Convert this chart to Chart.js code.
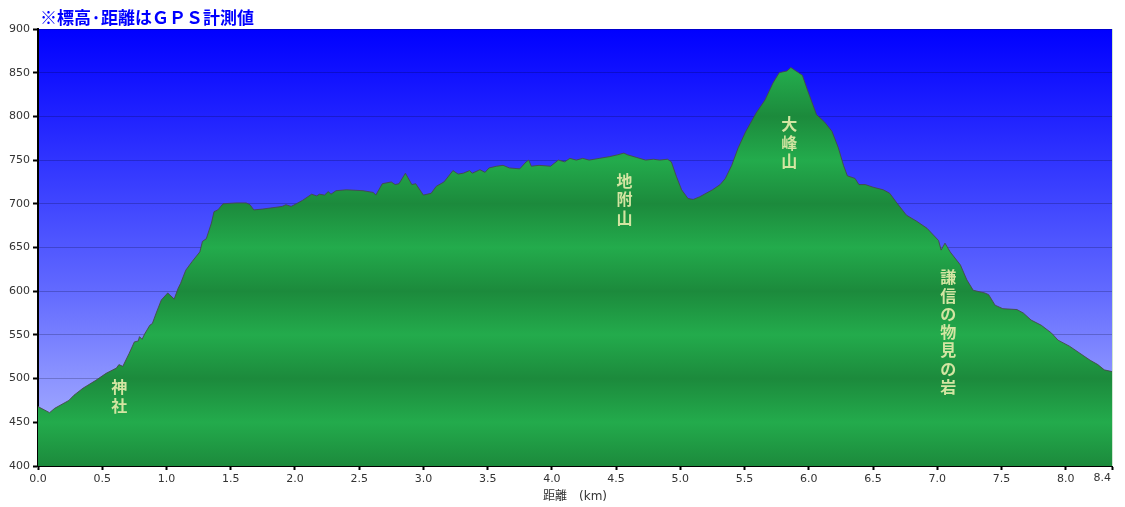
<!DOCTYPE html>
<html lang="ja">
<head>
<meta charset="utf-8">
<title>標高グラフ</title>
<script src="https://cdn.jsdelivr.net/npm/chart.js@4.4.1/dist/chart.umd.min.js"></script>
<style>
  html, body { margin: 0; padding: 0; background: #fff; }
  #wrap { width: 1125px; height: 507px; }
</style>
</head>
<body>
<div id="wrap"><canvas id="profile" width="1125" height="507"></canvas></div>
<script>
// 距離(km) と 標高(m)
const distanceKm = [
  0.00, 0.09, 0.13, 0.24, 0.28, 0.35, 0.45, 0.53, 0.61, 0.63, 0.66, 0.71, 0.75, 0.78, 0.79, 0.81,
  0.83, 0.87, 0.89, 0.92, 0.96, 1.01, 1.06, 1.09, 1.11, 1.15, 1.20, 1.26, 1.28, 1.31, 1.35, 1.37,
  1.40, 1.44, 1.54, 1.62, 1.65, 1.68, 1.75, 1.90, 1.93, 1.97, 2.01, 2.06, 2.13, 2.17, 2.19, 2.23,
  2.26, 2.28, 2.32, 2.40, 2.53, 2.61, 2.63, 2.68, 2.75, 2.78, 2.81, 2.86, 2.91, 2.94, 3.00, 3.06,
  3.10, 3.16, 3.23, 3.27, 3.31, 3.36, 3.38, 3.44, 3.48, 3.51, 3.57, 3.62, 3.67, 3.75, 3.80, 3.82,
  3.84, 3.90, 3.99, 4.05, 4.10, 4.14, 4.19, 4.24, 4.29, 4.37, 4.45, 4.51, 4.56, 4.59, 4.66, 4.73,
  4.79, 4.84, 4.90, 4.93, 4.97, 5.01, 5.06, 5.10, 5.15, 5.20, 5.25, 5.31, 5.35, 5.40, 5.45, 5.51,
  5.59, 5.66, 5.72, 5.77, 5.83, 5.86, 5.90, 5.95, 5.99, 6.06, 6.12, 6.18, 6.23, 6.27, 6.30, 6.36,
  6.39, 6.44, 6.50, 6.58, 6.63, 6.68, 6.76, 6.84, 6.92, 7.01, 7.03, 7.06, 7.10, 7.18, 7.23, 7.28,
  7.37, 7.40, 7.45, 7.51, 7.62, 7.67, 7.73, 7.81, 7.89, 7.94, 8.03, 8.11, 8.19, 8.25, 8.30, 8.36
];
const elevationM = [
  468, 461, 466, 475, 481, 489, 498, 506, 512, 516, 514, 529, 542, 543, 548, 545,
  551, 561, 563, 575, 590, 598, 591, 603, 609, 624, 634, 645, 657, 660, 678, 691,
  693, 700, 701, 701, 699, 693, 694, 697, 699, 697, 700, 704, 711, 709, 711, 710,
  714, 711, 715, 716, 715, 713, 710, 723, 725, 722, 723, 735, 722, 723, 710, 712,
  720, 725, 738, 734, 735, 738, 735, 739, 736, 741, 743, 744, 741, 740, 748, 750,
  743, 744, 743, 750, 748, 752, 750, 752, 750, 752, 754, 756, 758, 756, 753, 750,
  751, 750, 751, 748, 731, 716, 706, 705, 708, 712, 716, 722, 729, 744, 764, 783,
  804, 819, 838, 850, 852, 856, 852, 847, 830, 802, 794, 783, 764, 744, 732, 729,
  722, 722, 719, 716, 712, 702, 687, 680, 672, 658, 647, 655, 645, 630, 613, 601,
  598, 596, 584, 580, 579, 575, 567, 561, 552, 544, 537, 529, 521, 516, 510, 508
];

const xTickValues = [0, 0.5, 1, 1.5, 2, 2.5, 3, 3.5, 4, 4.5, 5, 5.5, 6, 6.5, 7, 7.5, 8, 8.36];
const xTickLabels = ['0.0', '0.5', '1.0', '1.5', '2.0', '2.5', '3.0', '3.5', '4.0', '4.5',
                     '5.0', '5.5', '6.0', '6.5', '7.0', '7.5', '8.0', '8.4'];
const yTickValues = [400, 450, 500, 550, 600, 650, 700, 750, 800, 850, 900];

// 地名 (縦書き) : 位置は距離と標高で指定
const placeNames = ['神社', '地附山', '大峰山', '謙信の物見の岩'];
const placeKm = [0.633, 4.566, 5.847, 7.086];
const placeTopM = [490, 726, 791, 616];

const titleText = '※標高·距離はＧＰＳ計測値';
const xAxisTitle = '距離　(km)';

const tickFont = { family: '"DejaVu Sans", "Noto Sans CJK JP", sans-serif', size: 11 };
const lastTick = xTickValues.length - 1;

function greenFill(context) {
  const chart = context.chart;
  const area = chart.chartArea;
  if (!area) return '#1f9a44';
  const y = chart.scales.y;
  const g = chart.ctx.createLinearGradient(0, area.top, 0, area.bottom);
  yTickValues.forEach(v => {
    const t = (y.getPixelForValue(v) - area.top) / (area.bottom - area.top);
    g.addColorStop(Math.min(1, Math.max(0, t)), v % 100 === 0 ? '#1c8a3c' : '#23ab4c');
  });
  return g;
}

const skyPlugin = {
  id: 'sky',
  beforeDraw(chart) {
    const { ctx, chartArea: a } = chart;
    const g = ctx.createLinearGradient(0, a.top, 0, a.bottom);
    g.addColorStop(0, 'rgb(0,0,255)');
    g.addColorStop(0.2, 'rgb(32,34,255)');
    g.addColorStop(0.4, 'rgb(64,70,255)');
    g.addColorStop(0.6, 'rgb(98,106,255)');
    g.addColorStop(0.8, 'rgb(140,148,255)');
    g.addColorStop(1, 'rgb(178,184,255)');
    ctx.save();
    ctx.fillStyle = g;
    ctx.fillRect(a.left, a.top, a.right - a.left, a.bottom - a.top);
    ctx.restore();
  }
};

const textPlugin = {
  id: 'texts',
  afterDraw(chart) {
    const { ctx, chartArea: a, scales } = chart;
    ctx.save();
    // right edge of plot
    ctx.strokeStyle = '#cfe5cf';
    ctx.lineWidth = 1;
    ctx.beginPath();
    ctx.moveTo(a.right + 0.5, a.top);
    ctx.lineTo(a.right + 0.5, a.bottom);
    ctx.stroke();

    // last x label, kept inside the axis end
    ctx.fillStyle = '#333';
    ctx.font = '11px "DejaVu Sans", sans-serif';
    ctx.textAlign = 'right';
    ctx.textBaseline = 'top';
    ctx.fillText(xTickLabels[lastTick], scales.x.getPixelForValue(xTickValues[lastTick]) - 1, scales.x.top + 7);

    // place names, vertical
    ctx.fillStyle = '#d3e5a2';
    ctx.font = 'bold 16px "Noto Sans CJK JP", sans-serif';
    ctx.textAlign = 'center';
    ctx.textBaseline = 'middle';
    placeNames.forEach((name, i) => {
      const px = scales.x.getPixelForValue(placeKm[i]);
      const py = scales.y.getPixelForValue(placeTopM[i]);
      [...name].forEach((ch, j) => ctx.fillText(ch, px, py + j * 18.3));
    });

    // title
    ctx.fillStyle = '#0000ff';
    ctx.font = 'bold 17px "Noto Sans CJK JP", sans-serif';
    ctx.textAlign = 'left';
    ctx.fillText(titleText, 40, 18);
    ctx.restore();
  }
};

new Chart(document.getElementById('profile'), {
  type: 'line',
  data: {
    datasets: [{
      data: distanceKm.map((d, i) => ({ x: d, y: elevationM[i] })),
      borderColor: 'rgba(70,70,70,0.85)',
      borderWidth: 1,
      pointRadius: 0,
      tension: 0,
      fill: 'start',
      backgroundColor: greenFill
    }]
  },
  options: {
    responsive: false,
    animation: false,
    layout: { padding: { left: 0, top: 29, right: 13, bottom: 0 } },
    plugins: { legend: { display: false }, tooltip: { enabled: false } },
    scales: {
      x: {
        type: 'linear',
        min: 0,
        max: distanceKm[distanceKm.length - 1],
        z: 1,
        border: { display: true, color: '#000', width: 2 },
        grid: { drawOnChartArea: false, drawTicks: true, tickLength: 4, tickWidth: 2, tickColor: '#000' },
        ticks: {
          font: tickFont, color: '#333', padding: 3, maxRotation: 0, autoSkip: false,
          callback: (v, i) => (i === lastTick ? '' : xTickLabels[i])
        },
        afterBuildTicks: scale => { scale.ticks = xTickValues.map(v => ({ value: v })); },
        afterFit: scale => { scale.height = 41; },
        title: {
          display: true, text: xAxisTitle, color: '#333',
          font: { family: '"DejaVu Sans", "Noto Sans CJK JP", sans-serif', size: 12 },
          padding: { top: 1, bottom: 3 }
        }
      },
      y: {
        min: 400,
        max: 900,
        z: 1,
        border: { display: true, color: '#000', width: 2 },
        grid: { color: 'rgba(0,0,30,0.22)', lineWidth: 1, tickLength: 5, tickWidth: 2, tickColor: '#000' },
        ticks: { font: tickFont, color: '#333', padding: 3 },
        afterBuildTicks: scale => { scale.ticks = yTickValues.map(v => ({ value: v })); },
        afterFit: scale => { scale.width = 38; }
      }
    }
  },
  plugins: [skyPlugin, textPlugin]
});
</script>
</body>
</html>
